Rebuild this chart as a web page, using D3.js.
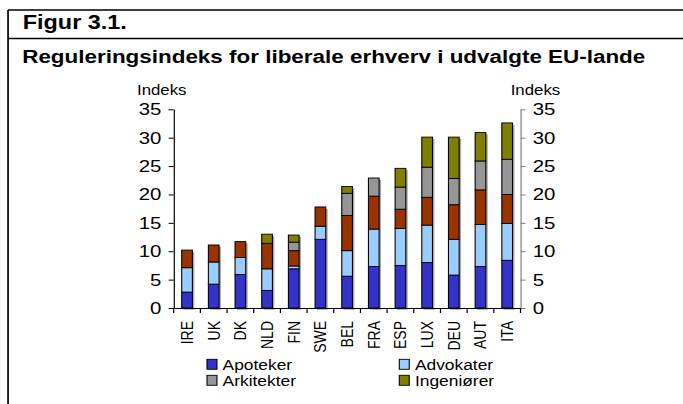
<!DOCTYPE html>
<html>
<head>
<meta charset="utf-8">
<script src="https://cdn.jsdelivr.net/npm/d3@7"></script>
<style>
  body { margin: 0; background: #fff; }
  svg { display: block; font-family: "Liberation Sans", Arial, sans-serif; }
</style>
</head>
<body>
<div id="chart"></div>
<script>
// data
var countries = ["IRE", "UK", "DK", "NLD", "FIN", "SWE", "BEL", "FRA", "ESP", "LUX", "DEU", "AUT", "ITA"];
var keys = ["Apoteker", "Advokater", "Revisorer", "Arkitekter", "Ingeniører"];
var apoteker   = [2.8, 4.2, 5.9, 3.1, 6.9, 12.1, 5.6, 7.3, 7.5, 8.0, 5.8, 7.3, 8.4];
var advokater  = [4.3, 3.9, 3.0, 3.8, 0.5, 2.3, 4.5, 6.6, 6.5, 6.6, 6.3, 7.4, 6.5];
var revisorer  = [3.1, 3.0, 2.8, 4.5, 2.7, 3.4, 6.2, 5.8, 3.4, 4.9, 6.1, 6.1, 5.1];
var arkitekter = [0, 0, 0, 0, 1.5, 0, 3.9, 3.2, 3.9, 5.3, 4.6, 5.1, 6.2];
var ingeniorer = [0, 0, 0, 1.6, 1.25, 0, 1.2, 0, 3.3, 5.3, 7.3, 5.0, 6.4];
var yTicks = [0, 5, 10, 15, 20, 25, 30, 35];
var legendKeys = ["Apoteker", "Advokater", "Arkitekter", "Ingeniører"];

var colors = {
  "Apoteker": "#3333cc",
  "Advokater": "#99ccff",
  "Revisorer": "#993300",
  "Arkitekter": "#969696",
  "Ingeniører": "#808000"
};

var svgWidth = 683, svgHeight = 404;
// the original picture is stretched horizontally, so draw in a narrower space and scale x
var sx = 1.2;
var vw = svgWidth / sx;

var rows = countries.map(function(c, i) {
  return {
    country: c,
    "Apoteker": apoteker[i],
    "Advokater": advokater[i],
    "Revisorer": revisorer[i],
    "Arkitekter": arkitekter[i],
    "Ingeniører": ingeniorer[i]
  };
});

var svg = d3.select("#chart").append("svg")
  .attr("width", svgWidth)
  .attr("height", svgHeight);

var g = svg.append("g").attr("transform", "scale(" + sx + ",1)");

// frame
g.append("line").attr("x1", 6.7).attr("x2", 6.7).attr("y1", 10).attr("y2", svgHeight)
  .attr("stroke", "#000").attr("stroke-width", 1.4);
g.append("line").attr("x1", 6.7).attr("x2", vw).attr("y1", 10).attr("y2", 10)
  .attr("stroke", "#000").attr("stroke-width", 1.6);
g.append("line").attr("x1", 6.7).attr("x2", vw).attr("y1", 38.5).attr("y2", 38.5)
  .attr("stroke", "#000").attr("stroke-width", 1.6);

g.append("text").attr("x", 19).attr("y", 29)
  .attr("font-size", 19.5).attr("font-weight", "bold")
  .text("Figur 3.1.");
g.append("text").attr("x", 18.5).attr("y", 63)
  .attr("font-size", 18.7).attr("font-weight", "bold")
  .text("Reguleringsindeks for liberale erhverv i udvalgte EU-lande");

// scales
var x = d3.scaleBand().domain(countries).range([144.75, 433.75]).paddingInner(0.6).paddingOuter(0.3);
var y = d3.scaleLinear().domain([0, 35]).range([308, 109.3]);

var series = d3.stack().keys(keys)(rows);

// shadows behind every stack
g.append("g").selectAll("rect")
  .data(rows)
  .enter().append("rect")
  .attr("x", d => x(d.country) + 1.6)
  .attr("y", d => y(d3.sum(keys, k => d[k])) + 1.8)
  .attr("width", x.bandwidth())
  .attr("height", d => y(0) - y(d3.sum(keys, k => d[k])))
  .attr("fill", "#a8a8a8");

g.append("g").selectAll("g")
  .data(series)
  .enter().append("g")
  .attr("fill", d => colors[d.key])
  .selectAll("rect")
  .data(d => d.filter(s => s[1] - s[0] > 0))
  .enter().append("rect")
  .attr("x", d => x(d.data.country))
  .attr("y", d => y(d[1]))
  .attr("width", x.bandwidth())
  .attr("height", d => y(d[0]) - y(d[1]))
  .attr("stroke", "#000")
  .attr("stroke-width", 0.9);

// axes
var leftAxis = d3.axisLeft(y).tickValues(yTicks).tickSize(4.2).tickSizeOuter(0).tickPadding(6);
var rightAxis = d3.axisRight(y).tickValues(yTicks).tickSize(4.2).tickSizeOuter(0).tickPadding(6);

var la = g.append("g").attr("transform", "translate(144.75,0)").call(leftAxis);
la.selectAll("text").attr("font-size", 17).attr("font-family", null).attr("fill", "#000");
la.select(".domain").attr("stroke", "#000");

var ra = g.append("g").attr("transform", "translate(433.75,0)").call(rightAxis);
ra.selectAll("text").attr("font-size", 17).attr("font-family", null).attr("fill", "#000");
ra.selectAll("line").attr("stroke", "#808080");
ra.select(".domain").attr("stroke", "#808080");

var bottomAxis = d3.axisBottom(x).tickSize(0).tickSizeOuter(0);
var ba = g.append("g").attr("transform", "translate(0,308)").call(bottomAxis);
ba.select(".domain").attr("stroke", "#000");
ba.selectAll("text")
  .attr("font-size", 14)
  .attr("font-family", null)
  .attr("fill", "#000")
  .attr("text-anchor", "end")
  .attr("transform", "rotate(-90)")
  .attr("x", -13)
  .attr("y", 0)
  .attr("dy", "0.35em");

// tick marks between the categories
var step = x.step();
g.append("g").selectAll("line")
  .data(d3.range(countries.length + 1))
  .enter().append("line")
  .attr("x1", i => 144.75 + i * step)
  .attr("x2", i => 144.75 + i * step)
  .attr("y1", 308)
  .attr("y2", 313)
  .attr("stroke", "#000");

g.append("text").attr("x", 114.2).attr("y", 95).attr("font-size", 14).text("Indeks");
g.append("text").attr("x", 425.6).attr("y", 95).attr("font-size", 14).text("Indeks");

// legend
var legendPos = [[172.5, 359.3], [332.75, 359.3], [172.5, 375.3], [332.75, 375.3]];
var lg = g.append("g").selectAll("g")
  .data(legendKeys)
  .enter().append("g")
  .attr("transform", (d, i) => "translate(" + legendPos[i][0] + "," + legendPos[i][1] + ")");
lg.append("rect")
  .attr("width", 8.3).attr("height", 10)
  .attr("fill", d => colors[d])
  .attr("stroke", "#000").attr("stroke-width", 0.9);
lg.append("text")
  .attr("x", 13).attr("y", 10.5)
  .attr("font-size", 14.5)
  .text(d => d);
</script>
</body>
</html>
